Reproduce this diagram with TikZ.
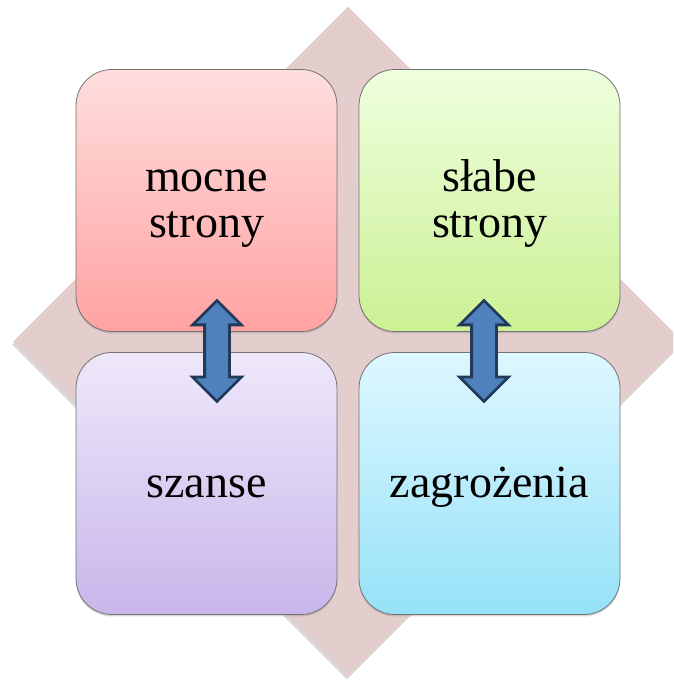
\documentclass[tikz,border=0pt]{standalone}
\usepackage{fontspec}
\setmainfont{Liberation Serif}
\usetikzlibrary{shapes.geometric,shapes.arrows,shadows}
\definecolor{tlo}{RGB}{228,205,205}
\definecolor{strz}{RGB}{79,129,189}
\definecolor{strzbrzeg}{RGB}{33,58,90}
\newcommand{\napis}[1]{\raisebox{-5pt}[\height][\depth]{\begin{tabular}{@{}c@{}}#1\end{tabular}}}
\tikzset{x=1pt,y=1pt,node distance=283pt,
  pole/.style={rectangle,rounded corners=36pt,draw=black!55,line width=0.8pt,
    minimum width=261pt,minimum height=262pt,
    font=\fontsize{46}{46}\selectfont,
    drop shadow={shadow xshift=0pt,shadow yshift=-2pt,opacity=0.3}},
  strzalka/.style={double arrow,rotate=90,fill=strz,draw=strzbrzeg,line width=2.8pt,
    minimum height=101pt,minimum width=48pt,double arrow head extend=12pt,inner sep=11pt}}

\begin{document}
\begin{tikzpicture}
              \useasboundingbox (0,0) rectangle (673,681);
              \clip (0,0) rectangle (673,681);
              \node[diamond,fill=tlo,minimum width=670pt,minimum height=670pt,inner sep=0pt,
                    drop shadow={shadow xshift=-1pt,shadow yshift=-3pt,opacity=0.3}] (tlo) at (348,339.5) {};

              \node[pole,top color={rgb,255:red,255;green,222;blue,222},bottom color={rgb,255:red,255;green,162;blue,162}] (mocne) at (206.5,480.5) {\napis{mocne\\strony}};
              \node[pole,top color={rgb,255:red,238;green,255;blue,222},bottom color={rgb,255:red,204;green,240;blue,148}] (slabe) [right of=mocne] {\napis{słabe\\strony}};
              \node[pole,top color={rgb,255:red,238;green,232;blue,250},bottom color={rgb,255:red,200;green,182;blue,234}] (szanse) [below of=mocne] {\napis{szanse}};
              \node[pole,top color={rgb,255:red,222;green,247;blue,255},bottom color={rgb,255:red,150;green,226;blue,248}] (zagr) [right of=szanse] {\napis{zagrożenia}};

              \node[strzalka] (s1) at (217,330) {};
              \node[strzalka] (s2) at (484,330) {};
\end{tikzpicture}
\end{document}
